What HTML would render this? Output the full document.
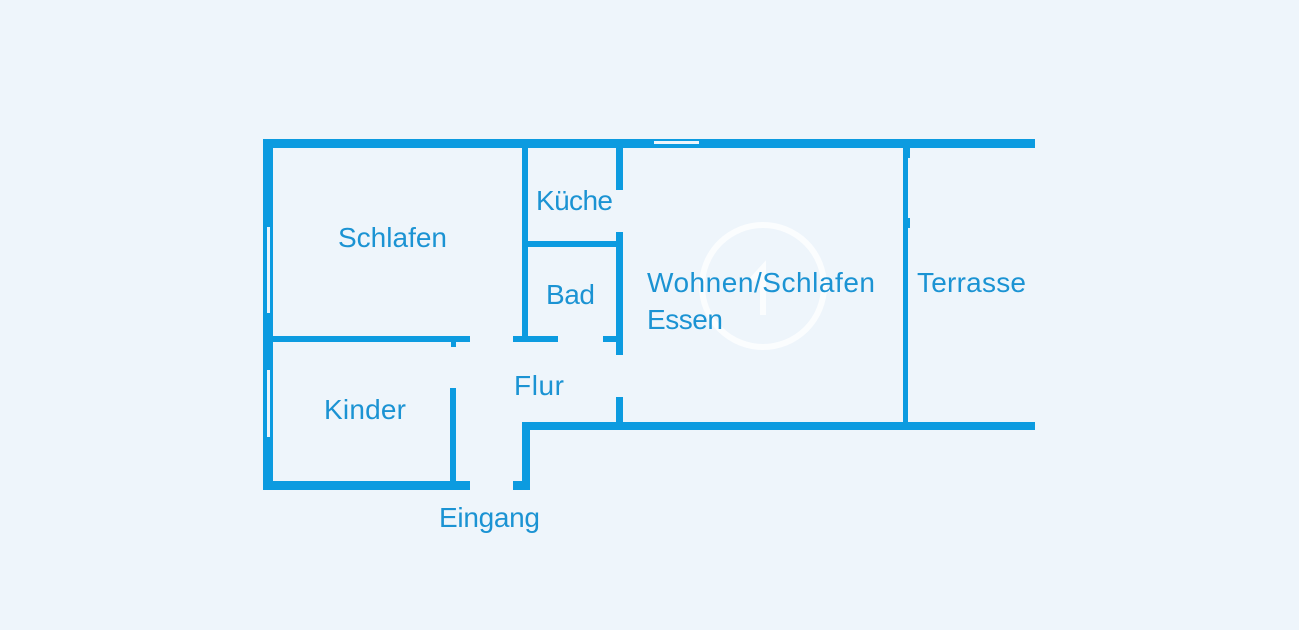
<!DOCTYPE html>
<html><head><meta charset="utf-8"><style>
html,body{margin:0;padding:0;background:#eef5fb;}
svg{display:block}
text{font-family:"Liberation Sans",sans-serif;font-size:28px;fill:#1b93d3;}
</style></head><body>
<svg width="1299" height="630" viewBox="0 0 1299 630" xmlns="http://www.w3.org/2000/svg">
<rect width="1299" height="630" fill="#eef5fb"/>
<g fill="#0c9be0">
<rect x="263" y="139" width="772" height="9"/>
<rect x="263" y="139" width="10" height="351"/>
<rect x="263" y="481" width="207" height="9"/>
<rect x="263" y="336" width="207" height="6"/>
<rect x="451" y="336" width="5" height="11"/>
<rect x="450" y="388" width="6" height="102"/>
<rect x="522" y="139" width="6" height="203"/>
<rect x="522" y="241" width="100" height="6"/>
<rect x="513" y="336" width="45" height="6"/>
<rect x="603" y="336" width="19" height="6"/>
<rect x="616" y="139" width="7" height="51"/>
<rect x="616" y="232" width="7" height="123"/>
<rect x="616" y="397" width="7" height="33"/>
<rect x="513" y="481" width="17" height="9"/>
<rect x="522" y="422" width="8" height="68"/>
<rect x="522" y="422" width="513" height="8"/>
<rect x="903" y="139" width="5" height="291"/>
<rect x="903" y="148" width="7" height="10"/>
<rect x="903" y="218" width="7" height="10"/>
</g>
<g fill="#eef5fb">
<rect x="267" y="227" width="3" height="86"/>
<rect x="267" y="370" width="3" height="67"/>
<rect x="654" y="141" width="45" height="3"/>
</g>
<g opacity="0.8" stroke="#ffffff" fill="none" stroke-width="6">
<circle cx="763" cy="286" r="61"/>
<path d="M763 315 V268 L752 280"/>
</g>
<text x="338" y="247" textLength="109">Schlafen</text>
<text x="536" y="210" textLength="77">Küche</text>
<text x="546" y="304" textLength="49">Bad</text>
<text x="647" y="292" textLength="228">Wohnen/Schlafen</text>
<text x="647" y="329" textLength="76">Essen</text>
<text x="917" y="292" textLength="109">Terrasse</text>
<text x="514" y="395" textLength="50">Flur</text>
<text x="324" y="419" textLength="82">Kinder</text>
<text x="439" y="527" textLength="101">Eingang</text>
</svg>
</body></html>
